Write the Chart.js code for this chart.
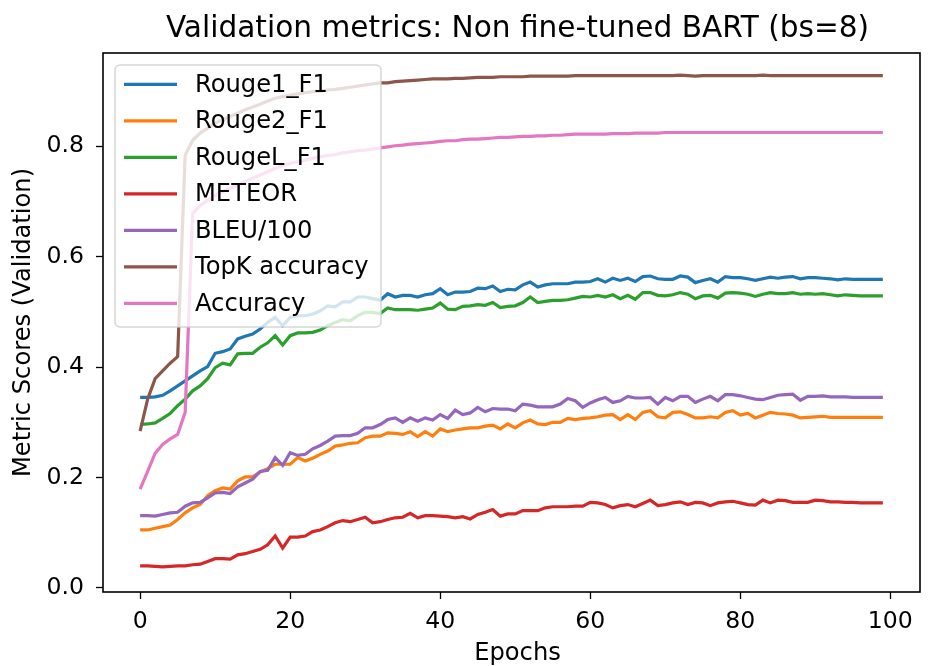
<!DOCTYPE html>
<html>
<head>
<meta charset="utf-8">
<script src="https://cdn.jsdelivr.net/npm/chart.js@4/dist/chart.umd.min.js"></script>
<style>
  html, body { margin: 0; padding: 0; background: #ffffff; }
  #wrap { width: 928px; height: 666px; }
</style>
</head>
<body>
<div id="wrap"><canvas id="c" width="928" height="666"></canvas></div>
<script>
// ---------------- data ----------------
const epochs = Array.from({length: 100}, (_, i) => i);

const rouge1 = [
  0.345, 0.345, 0.346, 0.349, 0.357, 0.366, 0.375, 0.384, 0.393, 0.401,
  0.425, 0.428, 0.433, 0.451, 0.456, 0.460, 0.469, 0.481, 0.490, 0.475,
  0.490, 0.493, 0.493, 0.496, 0.502, 0.511, 0.509, 0.518, 0.518, 0.527,
  0.527, 0.524, 0.521, 0.533, 0.527, 0.530, 0.530, 0.527, 0.531, 0.533,
  0.542, 0.531, 0.536, 0.536, 0.537, 0.543, 0.542, 0.547, 0.537, 0.541,
  0.540, 0.549, 0.554, 0.545, 0.549, 0.551, 0.551, 0.551, 0.554, 0.554,
  0.555, 0.560, 0.554, 0.561, 0.557, 0.561, 0.555, 0.564, 0.565, 0.560,
  0.559, 0.559, 0.565, 0.563, 0.553, 0.557, 0.560, 0.554, 0.564, 0.562,
  0.562, 0.560, 0.557, 0.560, 0.563, 0.561, 0.563, 0.564, 0.560, 0.562,
  0.562, 0.561, 0.560, 0.558, 0.560, 0.559, 0.559, 0.559, 0.559, 0.559
];
const rouge2 = [
  0.105, 0.105, 0.108, 0.111, 0.114, 0.124, 0.136, 0.145, 0.151, 0.167,
  0.176, 0.181, 0.179, 0.194, 0.201, 0.201, 0.210, 0.216, 0.224, 0.224,
  0.224, 0.236, 0.230, 0.235, 0.242, 0.248, 0.257, 0.259, 0.262, 0.263,
  0.272, 0.275, 0.275, 0.281, 0.280, 0.278, 0.283, 0.274, 0.283, 0.275,
  0.288, 0.283, 0.286, 0.288, 0.290, 0.290, 0.293, 0.295, 0.288, 0.297,
  0.290, 0.299, 0.304, 0.297, 0.296, 0.300, 0.300, 0.307, 0.305, 0.307,
  0.308, 0.310, 0.313, 0.314, 0.305, 0.314, 0.305, 0.318, 0.321, 0.310,
  0.308, 0.318, 0.319, 0.314, 0.308, 0.308, 0.310, 0.308, 0.318, 0.321,
  0.313, 0.316, 0.308, 0.313, 0.318, 0.316, 0.315, 0.313, 0.308, 0.309,
  0.310, 0.311, 0.309, 0.309, 0.309, 0.309, 0.309, 0.309, 0.309, 0.309
];
const rougeL = [
  0.296, 0.297, 0.299, 0.307, 0.316, 0.330, 0.342, 0.357, 0.366, 0.379,
  0.399, 0.407, 0.404, 0.424, 0.425, 0.425, 0.436, 0.444, 0.457, 0.440,
  0.457, 0.462, 0.462, 0.463, 0.467, 0.475, 0.481, 0.486, 0.484, 0.493,
  0.499, 0.499, 0.497, 0.507, 0.504, 0.504, 0.504, 0.503, 0.505, 0.507,
  0.516, 0.505, 0.504, 0.510, 0.511, 0.513, 0.512, 0.517, 0.508, 0.510,
  0.511, 0.517, 0.527, 0.517, 0.519, 0.521, 0.521, 0.522, 0.525, 0.528,
  0.527, 0.530, 0.527, 0.531, 0.524, 0.530, 0.523, 0.535, 0.535, 0.530,
  0.529, 0.531, 0.535, 0.532, 0.524, 0.529, 0.530, 0.525, 0.534, 0.535,
  0.534, 0.532, 0.528, 0.532, 0.535, 0.533, 0.533, 0.535, 0.532, 0.533,
  0.532, 0.533, 0.531, 0.529, 0.531, 0.530, 0.529, 0.529, 0.529, 0.529
];
const meteor = [
  0.040, 0.040, 0.039, 0.038, 0.039, 0.040, 0.040, 0.042, 0.043, 0.048,
  0.053, 0.053, 0.052, 0.060, 0.062, 0.066, 0.070, 0.078, 0.094, 0.072,
  0.092, 0.092, 0.094, 0.102, 0.105, 0.111, 0.118, 0.122, 0.120, 0.124,
  0.128, 0.118, 0.120, 0.124, 0.127, 0.128, 0.135, 0.127, 0.131, 0.131,
  0.130, 0.129, 0.127, 0.129, 0.125, 0.133, 0.137, 0.142, 0.130, 0.134,
  0.134, 0.140, 0.140, 0.140, 0.145, 0.147, 0.147, 0.147, 0.148, 0.148,
  0.155, 0.154, 0.151, 0.145, 0.149, 0.151, 0.147, 0.153, 0.159, 0.149,
  0.151, 0.154, 0.156, 0.151, 0.155, 0.154, 0.149, 0.154, 0.156, 0.157,
  0.154, 0.151, 0.150, 0.159, 0.154, 0.159, 0.158, 0.155, 0.155, 0.155,
  0.159, 0.158, 0.156, 0.156, 0.155, 0.155, 0.154, 0.154, 0.154, 0.154
];
const bleu = [
  0.131, 0.131, 0.130, 0.133, 0.136, 0.137, 0.148, 0.154, 0.155, 0.163,
  0.172, 0.173, 0.171, 0.183, 0.190, 0.197, 0.211, 0.213, 0.236, 0.222,
  0.245, 0.240, 0.242, 0.252, 0.258, 0.266, 0.275, 0.276, 0.276, 0.280,
  0.290, 0.290, 0.296, 0.305, 0.308, 0.300, 0.308, 0.302, 0.308, 0.304,
  0.314, 0.307, 0.322, 0.314, 0.317, 0.327, 0.319, 0.325, 0.324, 0.324,
  0.321, 0.333, 0.331, 0.328, 0.328, 0.328, 0.333, 0.343, 0.339, 0.327,
  0.335, 0.341, 0.345, 0.336, 0.339, 0.347, 0.344, 0.344, 0.345, 0.333,
  0.345, 0.339, 0.347, 0.347, 0.336, 0.342, 0.347, 0.339, 0.350, 0.350,
  0.348, 0.345, 0.342, 0.341, 0.345, 0.349, 0.350, 0.351, 0.340, 0.347,
  0.347, 0.348, 0.346, 0.346, 0.346, 0.345, 0.345, 0.345, 0.345, 0.345
];
const topkAccuracy = [
  0.284, 0.342, 0.379, 0.393, 0.407, 0.419, 0.784, 0.811, 0.824, 0.833,
  0.842, 0.848, 0.854, 0.860, 0.866, 0.871, 0.876, 0.882, 0.887, 0.890,
  0.893, 0.895, 0.897, 0.899, 0.900, 0.902, 0.903, 0.905, 0.907, 0.909,
  0.911, 0.913, 0.915, 0.915, 0.917, 0.918, 0.919, 0.920, 0.921, 0.922,
  0.922, 0.922, 0.923, 0.923, 0.924, 0.925, 0.925, 0.925, 0.926, 0.926,
  0.926, 0.926, 0.927, 0.927, 0.927, 0.927, 0.927, 0.927, 0.928, 0.928,
  0.928, 0.928, 0.928, 0.928, 0.928, 0.928, 0.928, 0.928, 0.928, 0.928,
  0.928, 0.928, 0.929, 0.928, 0.927, 0.928, 0.928, 0.928, 0.928, 0.928,
  0.928, 0.928, 0.928, 0.929, 0.928, 0.928, 0.928, 0.928, 0.928, 0.928,
  0.928, 0.928, 0.928, 0.928, 0.928, 0.928, 0.928, 0.928, 0.928, 0.928
];
const accuracy = [
  0.179, 0.211, 0.244, 0.260, 0.270, 0.278, 0.318, 0.678, 0.693, 0.702,
  0.711, 0.718, 0.724, 0.730, 0.736, 0.742, 0.748, 0.754, 0.760, 0.765,
  0.769, 0.772, 0.775, 0.778, 0.781, 0.783, 0.785, 0.788, 0.790, 0.792,
  0.793, 0.795, 0.797, 0.799, 0.801, 0.802, 0.804, 0.805, 0.806, 0.807,
  0.809, 0.810, 0.810, 0.812, 0.813, 0.813, 0.814, 0.815, 0.816, 0.816,
  0.817, 0.818, 0.818, 0.819, 0.819, 0.820, 0.820, 0.821, 0.822, 0.822,
  0.822, 0.822, 0.822, 0.823, 0.823, 0.823, 0.824, 0.824, 0.824, 0.824,
  0.825, 0.825, 0.825, 0.825, 0.825, 0.825, 0.825, 0.825, 0.825, 0.825,
  0.825, 0.825, 0.825, 0.825, 0.825, 0.825, 0.825, 0.825, 0.825, 0.825,
  0.825, 0.825, 0.825, 0.825, 0.825, 0.825, 0.825, 0.825, 0.825, 0.825
];

const seriesNames = ['Rouge1_F1', 'Rouge2_F1', 'RougeL_F1', 'METEOR', 'BLEU/100', 'TopK accuracy', 'Accuracy'];
const seriesValues = [rouge1, rouge2, rougeL, meteor, bleu, topkAccuracy, accuracy];
const seriesColors = ['#1f77b4', '#ff7f0e', '#2ca02c', '#d62728', '#9467bd', '#8c564b', '#e377c2'];

const xTicks = [0, 20, 40, 60, 80, 100];
const yTicks = [0.0, 0.2, 0.4, 0.6, 0.8];

const titleText = 'Validation metrics: Non fine-tuned BART (bs=8)';
const xLabel = 'Epochs';
const yLabel = 'Metric Scores (Validation)';

// ---------------- chart ----------------
const FONT = '"DejaVu Sans", sans-serif';
const FS = 23.6;
const LEG_FS = 24.2;
const LABEL_FS = 24.2;

const datasets = seriesNames.map((name, i) => ({
  label: name,
  data: epochs.map((e, j) => ({x: e, y: seriesValues[i][j]})),
  borderColor: seriesColors[i],
  backgroundColor: seriesColors[i],
  borderWidth: 3.2,
  pointRadius: 0,
  tension: 0,
  fill: false,
  order: seriesNames.length - i
}));

const mplPlugin = {
  id: 'mplDecor',
  afterDatasetsDraw(chart) {
    const ctx = chart.ctx;
    const a = chart.chartArea;
    // legend
    ctx.save();
    const lx = 115, ly = 65, lw = 266, lh = 262, r = 5;
    ctx.beginPath();
    ctx.moveTo(lx + r, ly);
    ctx.arcTo(lx + lw, ly, lx + lw, ly + lh, r);
    ctx.arcTo(lx + lw, ly + lh, lx, ly + lh, r);
    ctx.arcTo(lx, ly + lh, lx, ly, r);
    ctx.arcTo(lx, ly, lx + lw, ly, r);
    ctx.closePath();
    ctx.fillStyle = 'rgba(255,255,255,0.8)';
    ctx.fill();
    ctx.lineWidth = 1.5;
    ctx.strokeStyle = 'rgba(204,204,204,0.8)';
    ctx.stroke();
    ctx.font = LEG_FS + 'px ' + FONT;
    ctx.textBaseline = 'middle';
    ctx.textAlign = 'left';
    chart.data.datasets.forEach((ds, i) => {
      const yy = 84.3 + i * 36.5;
      ctx.beginPath();
      ctx.moveTo(124, yy);
      ctx.lineTo(177, yy);
      ctx.strokeStyle = ds.borderColor;
      ctx.lineWidth = 3.2;
      ctx.stroke();
      ctx.fillStyle = '#000';
      ctx.fillText(ds.label, 195, yy + 1);
    });
    ctx.restore();
    // frame
    ctx.save();
    ctx.strokeStyle = '#000';
    ctx.lineWidth = 1.6;
    ctx.strokeRect(a.left, a.top, a.right - a.left, a.bottom - a.top);
    ctx.restore();
  },
  afterDraw(chart) {
    const ctx = chart.ctx;
    const a = chart.chartArea;
    const cx = (a.left + a.right) / 2;
    const cy = (a.top + a.bottom) / 2;
    ctx.save();
    ctx.fillStyle = '#000';
    ctx.textAlign = 'center';
    ctx.textBaseline = 'alphabetic';
    ctx.font = '29.6px ' + FONT;
    ctx.fillText(titleText, cx + 6, 37);
    ctx.font = LABEL_FS + 'px ' + FONT;
    ctx.fillText(xLabel, cx + 6, 660);
    ctx.translate(30, cy);
    ctx.rotate(-Math.PI / 2);
    ctx.fillText(yLabel, 0, 0);
    ctx.restore();
  }
};

new Chart(document.getElementById('c'), {
  type: 'line',
  data: { datasets },
  options: {
    responsive: false,
    animation: false,
    devicePixelRatio: 1,
    layout: { padding: { top: 53, right: 8, left: 0, bottom: 0 } },
    plugins: {
      legend: { display: false },
      title: { display: false },
      tooltip: { enabled: false }
    },
    scales: {
      x: {
        type: 'linear',
        min: -4.95,
        max: 103.95,
        afterBuildTicks: s => { s.ticks = xTicks.map(v => ({value: v})); },
        afterFit: s => { s.height = 74; },
        grid: { display: true, drawOnChartArea: false, drawTicks: true, tickLength: 7, tickColor: '#000', tickWidth: 1.3 },
        border: { display: false },
        ticks: {
          color: '#000',
          font: { family: FONT, size: FS },
          padding: 9,
          maxRotation: 0,
          autoSkip: false,
          callback: v => String(v)
        }
      },
      y: {
        type: 'linear',
        min: -0.0074,
        max: 0.969,
        afterBuildTicks: s => { s.ticks = yTicks.map(v => ({value: v})); },
        afterFit: s => { s.width = 103; },
        grid: { display: true, drawOnChartArea: false, drawTicks: true, tickLength: 7, tickColor: '#000', tickWidth: 1.3 },
        border: { display: false },
        ticks: {
          color: '#000',
          font: { family: FONT, size: FS },
          padding: 12,
          autoSkip: false,
          callback: v => Number(v).toFixed(1)
        }
      }
    }
  },
  plugins: [mplPlugin]
});
</script>
</body>
</html>
